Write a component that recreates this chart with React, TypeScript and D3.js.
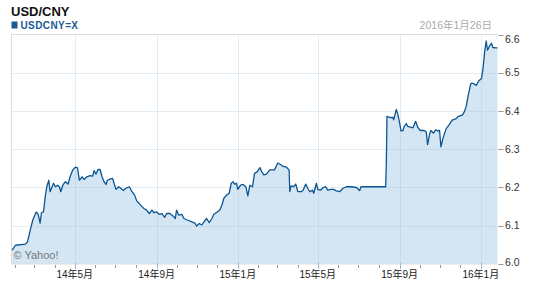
import React from "react";
import * as d3 from "d3";

const title = "USD/CNY";
const seriesName = "USDCNY=X";
const dateLabel = "2016年1月26日";
const copyright = "© Yahoo!";

const startDate = "2014-01-26";
const endDate = "2016-01-26";
const yTicks = [6.0, 6.1, 6.2, 6.3, 6.4, 6.5, 6.6];
const majorTicks = ["2014-05-01", "2014-09-01", "2015-01-01", "2015-05-01", "2015-09-01", "2016-01-01"];
const majorLabels = ["14年5月", "14年9月", "15年1月", "15年5月", "15年9月", "16年1月"];

const dates = [
  "2014-01-27","2014-02-01","2014-02-16","2014-02-19","2014-02-23","2014-02-27","2014-03-04","2014-03-07","2014-03-10","2014-03-12",
  "2014-03-15","2014-03-18","2014-03-20","2014-03-23","2014-03-25","2014-03-28","2014-03-30","2014-04-02","2014-04-05","2014-04-08",
  "2014-04-10","2014-04-13","2014-04-17","2014-04-21","2014-04-24","2014-04-28","2014-05-02","2014-05-05","2014-05-08","2014-05-12",
  "2014-05-15","2014-05-19","2014-05-24","2014-05-28","2014-05-30","2014-06-02","2014-06-05","2014-06-08","2014-06-11","2014-06-14",
  "2014-06-17","2014-06-19","2014-06-23","2014-06-27","2014-06-29","2014-07-02","2014-07-06","2014-07-09","2014-07-13","2014-07-17",
  "2014-07-22","2014-07-26","2014-07-30","2014-08-02","2014-08-06","2014-08-10","2014-08-13","2014-08-17","2014-08-21","2014-08-25",
  "2014-08-28","2014-09-01","2014-09-05","2014-09-09","2014-09-13","2014-09-16","2014-09-21","2014-09-26","2014-09-29","2014-10-01",
  "2014-10-04","2014-10-09","2014-10-12","2014-10-17","2014-10-24","2014-10-29","2014-10-31","2014-11-04","2014-11-08","2014-11-11",
  "2014-11-15","2014-11-19","2014-11-23","2014-11-26","2014-12-01","2014-12-05","2014-12-08","2014-12-11","2014-12-15","2014-12-19",
  "2014-12-22","2014-12-25","2014-12-27","2014-12-30","2015-01-01","2015-01-05","2015-01-09","2015-01-13","2015-01-16","2015-01-19",
  "2015-01-23","2015-01-26","2015-01-30","2015-02-03","2015-02-06","2015-02-09","2015-02-13","2015-02-18","2015-02-25","2015-03-02",
  "2015-03-06","2015-03-10","2015-03-15","2015-03-19","2015-03-20","2015-03-22","2015-03-26","2015-03-29","2015-04-01","2015-04-06",
  "2015-04-09","2015-04-13","2015-04-16","2015-04-19","2015-04-23","2015-04-25","2015-04-29","2015-05-01","2015-05-05","2015-05-09",
  "2015-05-13","2015-05-16","2015-05-21","2015-05-25","2015-05-29","2015-06-03","2015-06-08","2015-06-13","2015-06-20","2015-06-28",
  "2015-07-03","2015-07-05","2015-08-11","2015-08-12","2015-08-13","2015-08-17","2015-08-22","2015-08-23","2015-08-27","2015-08-29",
  "2015-09-01","2015-09-03","2015-09-06","2015-09-08","2015-09-11","2015-09-13","2015-09-17","2015-09-21","2015-09-25","2015-09-28",
  "2015-10-02","2015-10-08","2015-10-11","2015-10-13","2015-10-16","2015-10-18","2015-10-22","2015-10-25","2015-10-28","2015-10-31",
  "2015-11-02","2015-11-05","2015-11-07","2015-11-10","2015-11-14","2015-11-19","2015-11-25","2015-11-28","2015-12-04","2015-12-07",
  "2015-12-10","2015-12-13","2015-12-17","2015-12-21","2015-12-25","2015-12-29","2016-01-02","2016-01-04","2016-01-07","2016-01-09",
  "2016-01-11","2016-01-14","2016-01-17","2016-01-19","2016-01-24","2016-01-26"
];

const rates = [
  6.036,6.049,6.052,6.058,6.088,6.115,6.136,6.130,6.107,6.134,
  6.136,6.180,6.202,6.219,6.189,6.202,6.211,6.202,6.206,6.202,
  6.189,6.206,6.215,6.209,6.228,6.246,6.253,6.252,6.219,6.228,
  6.221,6.228,6.231,6.230,6.244,6.235,6.247,6.247,6.228,6.215,
  6.208,6.219,6.222,6.224,6.211,6.195,6.202,6.198,6.192,6.198,
  6.202,6.189,6.180,6.165,6.158,6.150,6.145,6.141,6.132,6.141,
  6.134,6.136,6.130,6.132,6.122,6.132,6.132,6.125,6.119,6.141,
  6.128,6.130,6.119,6.115,6.110,6.106,6.099,6.106,6.102,6.110,
  6.119,6.108,6.119,6.130,6.136,6.141,6.154,6.172,6.180,6.185,
  6.211,6.215,6.209,6.211,6.195,6.206,6.208,6.202,6.178,6.206,
  6.202,6.237,6.241,6.252,6.241,6.233,6.235,6.246,6.246,6.264,
  6.260,6.255,6.253,6.246,6.189,6.204,6.202,6.209,6.189,6.189,
  6.193,6.209,6.198,6.189,6.193,6.185,6.211,6.195,6.193,6.200,
  6.202,6.193,6.195,6.195,6.191,6.189,6.198,6.202,6.202,6.200,
  6.192,6.202,6.202,6.262,6.386,6.383,6.383,6.377,6.404,6.393,
  6.369,6.348,6.349,6.360,6.367,6.360,6.358,6.356,6.373,6.358,
  6.349,6.349,6.345,6.312,6.339,6.349,6.342,6.351,6.348,6.349,
  6.306,6.328,6.339,6.354,6.363,6.376,6.380,6.386,6.389,6.397,
  6.412,6.441,6.472,6.472,6.467,6.479,6.485,6.508,6.559,6.583,
  6.559,6.570,6.577,6.566,6.565,6.565
];

const W = 533;
const H = 291;
const left = 11.5;
const right = 497.5;
const top = 34.5;
const bottom = 264;
const font = "'Liberation Sans', Arial, 'Noto Sans CJK SC', sans-serif";

export default function App() {
  const parse = d3.timeParse("%Y-%m-%d");
  const data = dates.map((d, i) => ({ date: parse(d) as Date, v: rates[i] }));
  const x = d3.scaleTime().domain([parse(startDate) as Date, parse(endDate) as Date]).range([left, right]);
  const y = d3.scaleLinear().domain([6.0, 6.6]).range([bottom, top]);

  const area = d3.area<{ date: Date; v: number }>()
    .x((d) => x(d.date)).y0(bottom).y1((d) => y(d.v));
  const line = d3.line<{ date: Date; v: number }>()
    .x((d) => x(d.date)).y((d) => y(d.v));

  const months = d3.timeMonth.range(parse(startDate) as Date, parse(endDate) as Date);
  const majors = majorTicks.map((d) => parse(d) as Date);

  return (
    <svg width={W} height={H} style={{ position: "absolute", left: 0, top: 0, background: "#fff" }} fontFamily={font}>
      <text x={11} y={15.5} fontSize={13} fontWeight="bold" fill="#111">{title}</text>
      <rect x={11.5} y={21.5} width={6} height={7} fill="#1a5a96" />
      <text x={20.5} y={28.5} fontSize={10} fontWeight="bold" fill="#1a5a96" letterSpacing={0.4}>{seriesName}</text>
      <text x={492} y={28.5} fontSize={10.5} fill="#aaa" textAnchor="end">{dateLabel}</text>

      <path d={area(data) || ""} fill="#d4e6f4" />

      {yTicks.slice(1, -1).map((t) => (
        <line key={"h" + t} x1={left} x2={right} y1={Math.round(y(t)) + 0.5} y2={Math.round(y(t)) + 0.5}
          stroke="#9fc2de" strokeOpacity={0.3} />
      ))}
      {majors.map((d, i) => (
        <line key={"v" + i} x1={Math.round(x(d)) + 0.5} x2={Math.round(x(d)) + 0.5} y1={top} y2={bottom}
          stroke="#9fc2de" strokeOpacity={0.3} />
      ))}

      <line x1={left} x2={left} y1={top} y2={bottom} stroke="#ddd" />
      <line x1={left} x2={right} y1={top} y2={top} stroke="#ddd" />
      <line x1={left} x2={right} y1={bottom} y2={bottom} stroke="#ddd" />

      <path d={line(data) || ""} fill="none" stroke="#0d5590" strokeWidth={1.3} strokeLinejoin="round" />

      {months.map((d, i) => {
        const isMajor = majors.some((m) => +m === +d);
        const xx = Math.round(x(d)) + 0.5;
        return (
          <line key={"m" + i} x1={xx} x2={xx} y1={isMajor ? bottom - 1 : bottom + 1} y2={isMajor ? bottom + 5 : bottom + 4}
            stroke={isMajor ? "#9bb8cf" : "#999"} />
        );
      })}
      {majors.map((d, i) => (
        <text key={"l" + i} x={x(d)} y={277.5} fontSize={10} fill="#222" textAnchor="middle">{majorLabels[i]}</text>
      ))}

      {yTicks.map((t, i) => {
        const yy = y(t);
        const dy = i === 0 ? 1.5 : i === yTicks.length - 1 ? 8 : 3.6;
        return (
          <g key={"y" + t}>
            <line x1={right + 1} x2={right + 6} y1={Math.round(yy) + 0.5} y2={Math.round(yy) + 0.5} stroke="#999" />
            <text x={505} y={yy + dy} fontSize={10.5} fill="#333">{t.toFixed(1)}</text>
          </g>
        );
      })}

      <text x={13.5} y={258.5} fontSize={11} fill="#777">{copyright}</text>
    </svg>
  );
}
